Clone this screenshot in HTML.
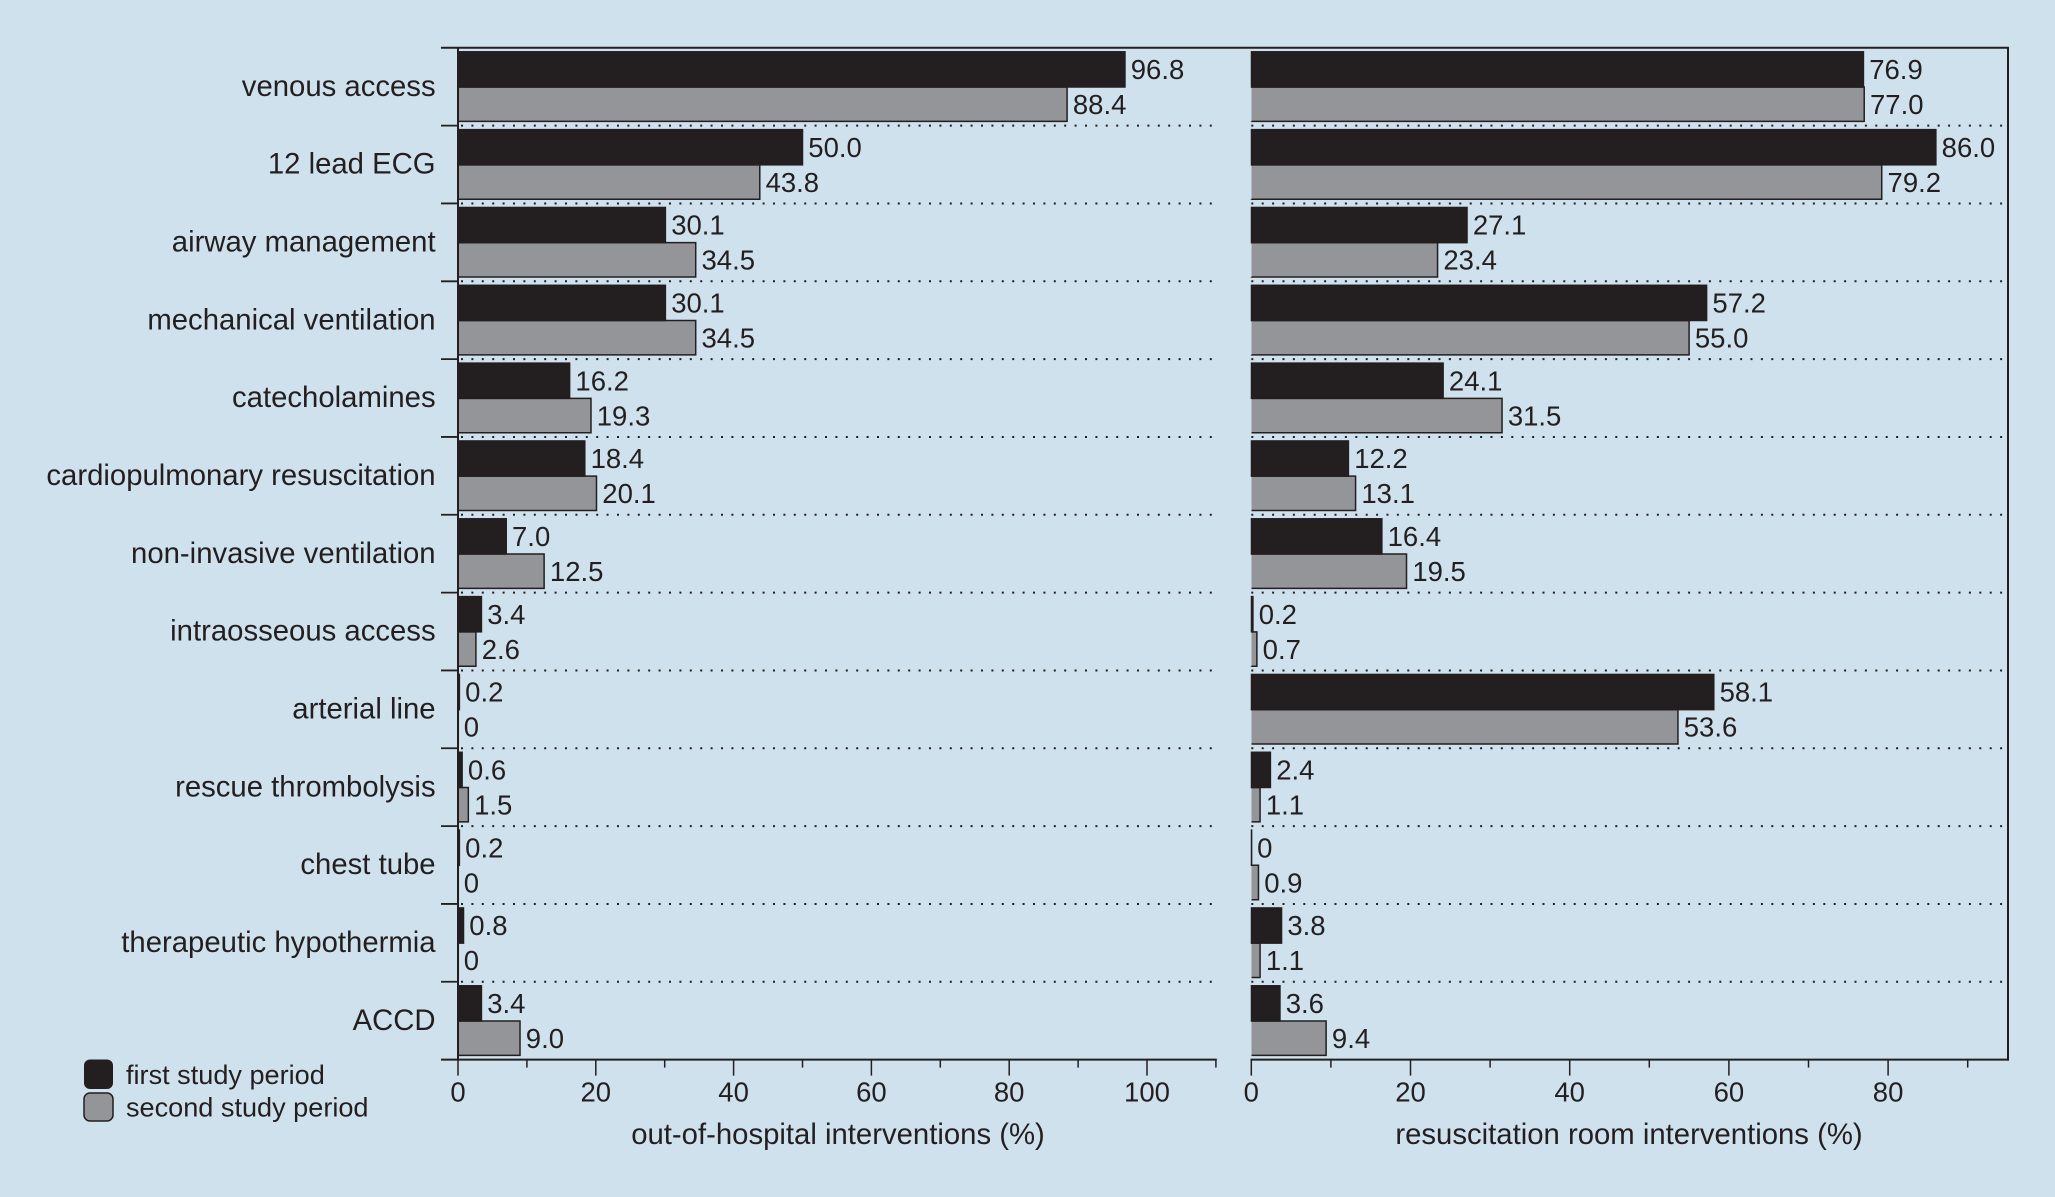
<!DOCTYPE html>
<html lang="en">
<head>
<meta charset="utf-8">
<title>Out-of-hospital and resuscitation room interventions</title>
<style>
  html, body { margin: 0; padding: 0; background: #cfe1ed; }
  svg { display: block; }
  text { font-family: "Liberation Sans", sans-serif; fill: #231f20; }
</style>
</head>
<body>
<svg id="chart" xmlns="http://www.w3.org/2000/svg" width="2055" height="1197" viewBox="0 0 2055 1197">
  <rect x="0" y="0" width="2055" height="1197" fill="#cfe1ed"/>
  <g id="grid"></g>
  <g id="bars"></g>
  <g id="values"></g>
  <g id="axes"></g>
  <g>
    <rect x="84" y="1059.5" width="29" height="29.5" rx="6" fill="#231f20"/>
    <text x="126" y="1084" font-size="27.1">first study period</text>
    <rect x="84" y="1093" width="29" height="28" rx="6" fill="#939598" stroke="#231f20" stroke-width="1.5"/>
    <text x="126" y="1116.5" font-size="27.1">second study period</text>
  </g>
  <text x="838" y="1144" font-size="29.3" text-anchor="middle">out-of-hospital interventions (%)</text>
  <text x="1629" y="1144" font-size="29.3" text-anchor="middle">resuscitation room interventions (%)</text>
</svg>
<script>
const categories = ["venous access", "12 lead ECG", "airway management", "mechanical ventilation", "catecholamines", "cardiopulmonary resuscitation", "non-invasive ventilation", "intraosseous access", "arterial line", "rescue thrombolysis", "chest tube", "therapeutic hypothermia", "ACCD"];
const hospitalFirst = [96.8, 50.0, 30.1, 30.1, 16.2, 18.4, 7.0, 3.4, 0.2, 0.6, 0.2, 0.8, 3.4];
const hospitalSecond = [88.4, 43.8, 34.5, 34.5, 19.3, 20.1, 12.5, 2.6, 0, 1.5, 0, 0, 9.0];
const roomFirst = [76.9, 86.0, 27.1, 57.2, 24.1, 12.2, 16.4, 0.2, 58.1, 2.4, 0, 3.8, 3.6];
const roomSecond = [77.0, 79.2, 23.4, 55.0, 31.5, 13.1, 19.5, 0.7, 53.6, 1.1, 0.9, 1.1, 9.4];
const hospitalTicks = [0, 10, 20, 30, 40, 50, 60, 70, 80, 90, 100, 110];
const roomTicks = [0, 10, 20, 30, 40, 50, 60, 70, 80, 90];

const INK = "#231f20";
const GREY = "#939598";
const SVG_NS = "http://www.w3.org/2000/svg";
const PLOT_TOP = 47.8;
const PLOT_BOTTOM = 1059.6;
const LEFT_X0 = 458;
const RIGHT_X0 = 1251.3;
const LEFT_END = 1216;
const RIGHT_END = 2008;

function xHospital(v) { return LEFT_X0 + v * 6.89; }
function xRoom(v) { return RIGHT_X0 + v * 7.96; }
function rowTop(i) { return PLOT_TOP + i * (PLOT_BOTTOM - PLOT_TOP) / categories.length; }
function printed(v) { return v === 0 ? "0" : v.toFixed(1); }
function slug(s) { return s.toLowerCase().replace(/[^a-z0-9]+/g, "-"); }

function make(parent, tag, props, content) {
  const el = document.createElementNS(SVG_NS, tag);
  for (const k in props) el.setAttribute(k, props[k]);
  if (content !== undefined) el.textContent = content;
  document.getElementById(parent).appendChild(el);
  return el;
}

function drawBar(panel, seriesName, category, value, scale, top, bottom, fill) {
  const x0 = scale(0);
  const w = Math.max(scale(value) - x0 - 0.2, 0.1);
  const h = bottom - top;
  const props = { x: x0 + 0.2, y: top, width: w, height: h, fill: fill, stroke: INK, "stroke-width": 1.5 };
  if (fill === GREY) {
    props["stroke-dasharray"] = (w + h + w) + " " + h;
  }
  const r = make("bars", "rect", props);
  
  
  const labelY = rowLabelY(category, fill);
  const t = make("values", "text", { x: scale(value) + 5.8, y: labelY, "font-size": 27.5 }, printed(value));
  
  
}

function rowLabelY(category, fill) {
  const top = rowTop(categories.indexOf(category));
  return top + (fill === INK ? 31.2 : 66.2);
}

function drawXAxis(panel, ticks, scale) {
  ticks.forEach(function (v) {
    const major = v % 20 === 0;
    const tick = make("axes", "line", { x1: scale(v), x2: scale(v), y1: PLOT_BOTTOM, y2: PLOT_BOTTOM + (major ? 16 : 8), stroke: INK, "stroke-width": 1.5 });
    
    
    if (major) {
      const label = make("axes", "text", { x: scale(v), y: 1101.5, "font-size": 27.5, "text-anchor": "middle" }, String(v));
      
      
    }
  });
}

categories.forEach(function (cat, i) {
  const top = rowTop(i);
  const label = make("axes", "text", { x: 435.6, y: top + 48.1, "font-size": 29.3, "text-anchor": "end" }, cat);
  
  

  drawBar("hospital", "second", cat, hospitalSecond[i], xHospital, top + 39.2, top + 73.6, GREY);
  drawBar("hospital", "first", cat, hospitalFirst[i], xHospital, top + 4, top + 39.2, INK);
  drawBar("room", "second", cat, roomSecond[i], xRoom, top + 39.2, top + 73.6, GREY);
  drawBar("room", "first", cat, roomFirst[i], xRoom, top + 4, top + 39.2, INK);

  if (i > 0) {
    const y = top;
    const tick = make("axes", "line", { x1: 441, x2: LEFT_X0, y1: y, y2: y, stroke: INK, "stroke-width": 1.8 });
    
    
    const d1 = make("grid", "line", { x1: LEFT_X0 + 3, x2: 1214, y1: y, y2: y, stroke: INK, "stroke-width": 2, "stroke-dasharray": "2 8.4" });
    
    
    const d2 = make("grid", "line", { x1: RIGHT_X0, x2: RIGHT_END, y1: y, y2: y, stroke: INK, "stroke-width": 2, "stroke-dasharray": "2 8.4" });
    
    
  }
});

const yAxis = make("axes", "line", { x1: LEFT_X0, x2: LEFT_X0, y1: PLOT_TOP, y2: PLOT_BOTTOM, stroke: INK, "stroke-width": 2 });



const topLine = make("axes", "line", { x1: 441, x2: RIGHT_END + 1, y1: PLOT_TOP, y2: PLOT_TOP, stroke: INK, "stroke-width": 2 });



const rightLine = make("axes", "line", { x1: RIGHT_END, x2: RIGHT_END, y1: PLOT_TOP, y2: PLOT_BOTTOM + 1, stroke: INK, "stroke-width": 2 });



const bottomLeft = make("axes", "line", { x1: 441, x2: LEFT_END + 0.8, y1: PLOT_BOTTOM, y2: PLOT_BOTTOM, stroke: INK, "stroke-width": 2 });



const bottomRight = make("axes", "line", { x1: RIGHT_X0 - 0.8, x2: RIGHT_END + 1, y1: PLOT_BOTTOM, y2: PLOT_BOTTOM, stroke: INK, "stroke-width": 2 });



drawXAxis("hospital", hospitalTicks, xHospital);
drawXAxis("room", roomTicks, xRoom);
</script>
</body>
</html>
